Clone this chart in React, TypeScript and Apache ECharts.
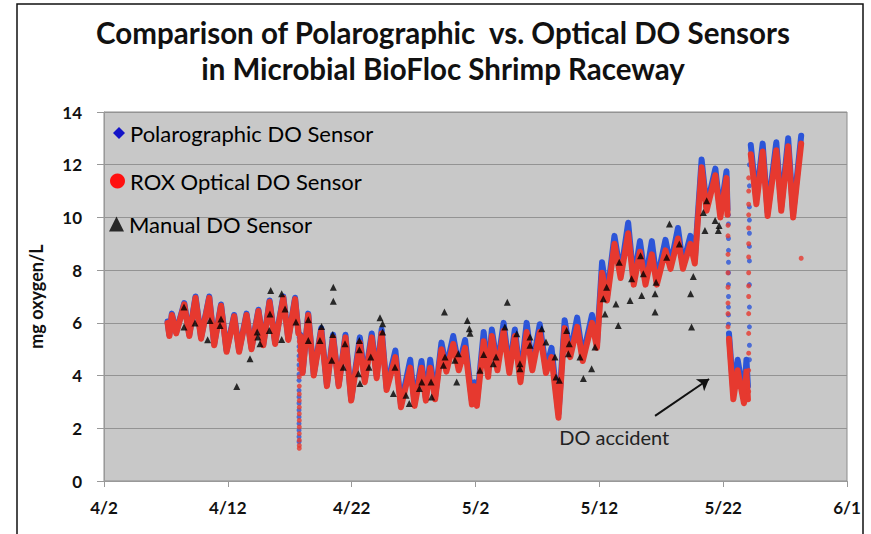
import React, { useEffect, useRef } from 'react';
import * as echarts from 'echarts';

// ---- axis tick labels ----
const xTickLabels = ['4/2', '4/12', '4/22', '5/2', '5/12', '5/22', '6/1'];

// ---- ROX optical sensor (red): daily highs/lows, [day since 4/2, mg/L] ----
const redSeg1 = [[5.13, 6.0], [5.28, 5.5], [5.48, 6.3], [5.83, 5.6], [6.48, 6.7], [6.89, 5.5], [7.39, 6.95], [7.84, 5.4], [8.5, 6.95], [8.9, 5.15], [9.45, 6.65], [9.9, 4.9], [10.51, 6.25], [10.91, 4.9], [11.51, 6.3], [11.91, 5.0], [12.47, 6.45], [12.87, 5.15], [13.37, 6.8], [13.82, 5.2], [14.48, 6.95], [14.88, 5.35], [15.43, 6.9], [15.7, 5.6]];
const redSeg2 = [[15.84, 5.5], [16.04, 4.1], [16.49, 6.3], [16.94, 4.0], [17.54, 5.7], [18.0, 3.6], [18.5, 5.45], [18.95, 3.6], [19.5, 5.45], [19.96, 3.05], [20.66, 5.25], [21.06, 3.75], [21.62, 5.45], [22.02, 3.9], [22.42, 5.6], [22.82, 3.45], [23.53, 4.7], [23.98, 2.8], [24.73, 4.3], [25.08, 2.85], [25.64, 4.3], [25.99, 3.05], [26.34, 4.3], [26.74, 3.1], [27.25, 5.0], [27.65, 4.15], [28.2, 5.2], [28.65, 4.2], [29.16, 5.05], [29.71, 2.9], [29.91, 3.6], [30.11, 2.85], [30.66, 5.3], [31.02, 3.95], [31.32, 5.5], [31.77, 4.2], [32.27, 5.7], [32.73, 4.1], [33.18, 5.5], [33.63, 3.75], [34.13, 5.65], [34.59, 4.2], [35.19, 5.65], [35.69, 4.1], [36.14, 4.7], [36.7, 2.4], [37.2, 5.8], [37.65, 4.7], [38.21, 5.85], [38.66, 4.55], [39.41, 6.0], [39.81, 5.05], [40.22, 7.9], [40.62, 6.85], [41.22, 9.0], [41.72, 7.7], [42.33, 9.4], [42.78, 7.45], [43.28, 8.7], [43.73, 7.45], [44.24, 8.6], [44.64, 7.45], [45.34, 8.75], [45.75, 8.05], [46.35, 9.2], [46.75, 8.05], [47.35, 9.0], [47.71, 8.25], [48.26, 11.9], [48.66, 10.25], [49.37, 11.6], [49.77, 10.0], [50.27, 11.5], [50.35, 10.1]];
const redSeg3 = [[50.47, 5.4], [50.82, 3.1], [51.17, 4.2], [51.68, 2.95], [51.88, 4.15], [52.0, 3.1]];
const redSeg4 = [[52.23, 12.4], [52.68, 10.5], [53.19, 12.5], [53.59, 10.05], [54.29, 12.55], [54.69, 10.25], [55.25, 12.7], [55.65, 10.0], [56.3, 12.8]];
const redDropDay = 15.77;
const redDropValues = [5.3, 4.95, 4.6, 4.25, 3.95, 3.6, 3.3, 3.05, 2.8, 2.55, 2.3, 2.05, 1.8, 1.55, 1.35, 1.24];
const redDeclineDay = 50.39;
const redDeclineValues = [9.7, 9.3, 8.6, 7.9, 7.35, 6.75, 6.35, 5.85];
const redRiseDay = 52.06;
const redRiseValues = [3.4, 4.2, 4.85, 5.6, 6.35, 7.0, 7.4, 7.9, 8.5, 9.0, 9.6, 10.1, 10.5, 11.0, 11.5];
const redLone = [[56.3, 8.45]];

// ---- Polarographic sensor (blue) ----
const blueSeg1 = [[5.13, 6.05], [5.28, 5.55], [5.48, 6.35], [5.83, 5.65], [6.48, 6.75], [6.89, 5.55], [7.39, 7.0], [7.84, 5.45], [8.5, 7.0], [8.9, 5.2], [9.45, 6.7], [9.9, 4.95], [10.51, 6.3], [10.91, 4.95], [11.51, 6.35], [11.91, 5.05], [12.47, 6.5], [12.87, 5.2], [13.37, 6.85], [13.82, 5.25], [14.48, 7.0], [14.88, 5.4], [15.43, 6.95], [15.7, 5.65]];
const blueSeg2 = [[15.84, 5.55], [16.04, 4.15], [16.49, 6.35], [16.94, 4.05], [17.54, 5.8], [18.0, 3.65], [18.5, 5.55], [18.95, 3.65], [19.5, 5.55], [19.96, 3.1], [20.66, 5.45], [21.06, 3.85], [21.62, 5.6], [22.02, 4.0], [22.42, 5.75], [22.82, 3.55], [23.53, 4.95], [23.98, 2.9], [24.73, 4.6], [25.08, 2.95], [25.64, 4.55], [25.99, 3.15], [26.34, 4.6], [26.74, 3.2], [27.25, 5.25], [27.65, 4.3], [28.2, 5.5], [28.65, 4.35], [29.16, 5.35], [29.71, 3.05], [29.91, 3.75], [30.11, 3.0], [30.66, 5.65], [31.02, 4.1], [31.32, 5.75], [31.77, 4.35], [32.27, 6.0], [32.73, 4.25], [33.18, 5.75], [33.63, 3.9], [34.13, 6.0], [34.59, 4.35], [35.19, 5.95], [35.69, 4.25], [36.14, 5.05], [36.7, 2.55], [37.2, 6.1], [37.65, 4.85], [38.21, 6.2], [38.66, 4.7], [39.41, 6.3], [39.81, 5.2], [40.22, 8.3], [40.62, 7.0], [41.22, 9.3], [41.72, 7.85], [42.33, 9.8], [42.78, 7.6], [43.28, 9.1], [43.73, 7.6], [44.24, 9.1], [44.64, 7.6], [45.34, 9.15], [45.75, 8.2], [46.35, 9.6], [46.75, 8.2], [47.35, 9.3], [47.71, 8.4], [48.26, 12.2], [48.66, 10.4], [49.37, 11.85], [49.77, 10.15], [50.27, 11.75], [50.35, 10.3]];
const blueSeg3 = [[50.47, 5.6], [50.82, 3.4], [51.17, 4.6], [51.68, 3.2], [51.88, 4.6], [52.0, 3.6]];
const blueSeg4 = [[52.23, 12.75], [52.68, 10.7], [53.19, 12.8], [53.59, 10.2], [54.29, 12.85], [54.69, 10.4], [55.25, 13.0], [55.65, 10.15], [56.3, 13.1]];
const blueDropDay = 15.75;
const blueDropValues = [5.45, 5.1, 4.75, 4.4, 4.05, 3.82, 3.44, 3.19, 2.95, 2.69, 2.43, 2.18, 1.93, 1.68, 1.49];
const blueDeclineDay = 50.43;
const blueDeclineValues = [10.1, 9.75, 9.2, 8.75, 8.3, 7.9, 7.45, 7.0, 6.6, 6.3, 5.95];
const blueRiseDay = 52.12;
const blueRiseValues = [4.6, 5.15, 5.85, 6.6, 7.45, 8.35, 8.9, 9.4, 9.9, 10.4, 11.2, 12.0];

// ---- Manual DO readings (black triangles) ----
const manualPoints = [[6.46, 6.6], [6.46, 5.84], [7.35, 5.99], [8.37, 5.36], [8.56, 6.09], [9.45, 6.15], [9.37, 5.9], [10.72, 3.59], [11.79, 4.64], [12.37, 5.65], [12.42, 5.46], [12.6, 5.21], [13.46, 7.23], [13.4, 6.34], [13.35, 5.71], [14.35, 7.1], [14.35, 5.37], [14.62, 6.53], [15.5, 6.03], [16.5, 6.12], [16.5, 5.33], [17.57, 5.86], [17.44, 5.33], [18.52, 7.35], [18.52, 6.82], [18.47, 5.56], [18.39, 4.58], [19.46, 5.21], [19.32, 4.32], [20.62, 5.33], [20.62, 4.98], [20.54, 4.07], [20.67, 3.7], [21.54, 4.7], [21.4, 4.32], [22.29, 6.19], [22.5, 5.97], [22.5, 5.65], [23.5, 4.32], [23.37, 3.32], [24.39, 3.25], [24.65, 2.94], [25.47, 3.51], [25.66, 3.76], [26.41, 3.76], [26.46, 3.19], [27.49, 6.41], [27.54, 4.7], [27.41, 4.39], [28.48, 3.76], [28.34, 4.58], [28.61, 4.83], [29.34, 6.09], [29.5, 5.78], [29.56, 5.61], [30.36, 4.2], [30.66, 4.8], [31.44, 4.45], [31.66, 4.7], [32.37, 5.84], [32.57, 6.78], [33.33, 5.59], [33.59, 4.45], [33.59, 4.26], [34.4, 5.46], [34.4, 5.15], [35.35, 5.78], [35.69, 5.27], [36.42, 4.7], [36.5, 3.95], [36.77, 3.82], [37.36, 5.71], [37.57, 5.21], [37.5, 4.83], [38.44, 4.7], [38.71, 3.89], [39.38, 4.26], [39.65, 5.08], [40.46, 6.34], [40.59, 7.35], [40.32, 6.91], [41.34, 6.72], [41.53, 5.9], [41.61, 8.3], [42.48, 6.85], [42.61, 7.67], [43.42, 7.04], [43.55, 7.86], [43.33, 8.55], [44.5, 6.41], [44.5, 7.1], [44.58, 7.54], [45.44, 8.49], [45.66, 9.75], [46.46, 8.99], [47.45, 5.84], [47.37, 7.1], [47.59, 7.76], [48.53, 9.5], [48.4, 10.19], [48.67, 10.63], [49.35, 9.88], [49.61, 9.5], [49.67, 9.69]];

// ---- annotation ----
const annotationText = 'DO accident';
const annotationTextAt = [41.2, 1.67];
const arrowFrom = [44.5, 2.47];
const arrowTo = [48.86, 3.87];

const SERIES_BLUE = 'Polarographic DO Sensor';
const SERIES_RED = 'ROX Optical DO Sensor';
const SERIES_MANUAL = 'Manual DO Sensor';

const FONT = 'Lato, "Noto Sans", sans-serif';

function joinSegments(segs: number[][][]) {
  const out: any[] = [];
  segs.forEach((s, i) => {
    if (i > 0) out.push([s[0][0], '-']);
    s.forEach((p) => out.push(p));
  });
  return out;
}
function column(day: number, values: number[]) {
  return values.map((v) => [day, v]);
}

export default function App() {
  const ref = useRef<HTMLDivElement>(null);
  useEffect(() => {
    const chart = echarts.init(ref.current!, null, { renderer: 'svg' });
    const blueColor = '#2c55d8';
    const redColor = '#e6392f';
    const legendText = { fontFamily: FONT, fontSize: 22, color: '#000' };
    chart.setOption({
      animation: false,
      backgroundColor: '#ffffff',
      title: {
        text: 'Comparison of Polarographic  vs. Optical DO Sensors\nin Microbial BioFloc Shrimp Raceway',
        left: 443,
        textAlign: 'center',
        top: 14,
        padding: 0,
        textStyle: { fontFamily: FONT, fontWeight: 'bold', fontSize: 29.5, lineHeight: 36, color: '#111' },
      },
      legend: [
        {
          data: [{ name: SERIES_BLUE, icon: 'diamond', itemStyle: { color: '#1414c8' } }],
          left: 113, top: 122, padding: 0, itemWidth: 12, itemHeight: 12,
          textStyle: legendText,
        },
        {
          data: [{ name: SERIES_RED, icon: 'circle', itemStyle: { color: '#ff1010' } }],
          left: 110, top: 170, padding: 0, itemWidth: 15, itemHeight: 15,
          textStyle: legendText,
        },
        {
          data: [{ name: SERIES_MANUAL, icon: 'triangle', itemStyle: { color: '#000' } }],
          left: 109, top: 213, padding: 0, itemWidth: 15, itemHeight: 15,
          textStyle: legendText,
        },
      ],
      grid: {
        left: 104, right: 24, top: 112, bottom: 53,
        show: true, backgroundColor: '#c8c8c8', borderColor: '#8c8c8c', borderWidth: 1,
      },
      xAxis: {
        type: 'value', min: 0, max: 60, interval: 10,
        axisLabel: {
          formatter: (v: number) => xTickLabels[Math.round(v / 10)] ?? '',
          fontFamily: FONT, fontWeight: 'bold', fontSize: 17, color: '#111', margin: 18,
        },
        axisLine: { show: true, onZero: false, lineStyle: { color: '#999', width: 1 } },
        axisTick: { show: true, length: 6, lineStyle: { color: '#999' } },
        splitLine: { show: false },
      },
      yAxis: {
        type: 'value', min: 0, max: 14, interval: 2,
        name: 'mg oxygen/L', nameLocation: 'middle', nameGap: 59,
        nameTextStyle: { fontFamily: FONT, fontWeight: 'bold', fontSize: 18, color: '#111' },
        axisLabel: { fontFamily: FONT, fontWeight: 'bold', fontSize: 17, color: '#111', margin: 22 },
        axisLine: { show: true, lineStyle: { color: '#999' } },
        axisTick: { show: true, length: 7, lineStyle: { color: '#999' } },
        splitLine: { show: true, lineStyle: { color: '#939393', width: 1 } },
      },
      series: [
        {
          name: SERIES_BLUE, type: 'line', data: joinSegments([blueSeg1, blueSeg2, blueSeg3, blueSeg4]),
          showSymbol: false, connectNulls: false, z: 2,
          itemStyle: { color: blueColor },
          lineStyle: { color: blueColor, width: 6, join: 'round', cap: 'round' },
        },
        {
          name: SERIES_BLUE, type: 'scatter', z: 2, symbol: 'circle', symbolSize: 5,
          itemStyle: { color: blueColor },
          data: [...column(blueDropDay, blueDropValues), ...column(blueDeclineDay, blueDeclineValues), ...column(blueRiseDay, blueRiseValues)],
        },
        {
          name: SERIES_RED, type: 'line', data: joinSegments([redSeg1, redSeg2, redSeg3, redSeg4]),
          showSymbol: false, connectNulls: false, z: 3,
          itemStyle: { color: redColor },
          lineStyle: { color: redColor, width: 6, join: 'round', cap: 'round' },
        },
        {
          name: SERIES_RED, type: 'scatter', z: 4, symbol: 'circle', symbolSize: 5,
          itemStyle: { color: redColor },
          data: [...column(redDropDay, redDropValues), ...column(redDeclineDay, redDeclineValues), ...column(redRiseDay, redRiseValues), ...redLone],
        },
        {
          name: SERIES_MANUAL, type: 'scatter', z: 5, symbol: 'triangle', symbolSize: 7,
          itemStyle: { color: '#000' },
          data: manualPoints,
          markLine: {
            silent: true, symbol: ['none', 'arrow'], symbolSize: 11,
            lineStyle: { color: '#111', width: 2, type: 'solid' },
            label: { show: false },
            data: [[{ coord: arrowFrom }, { coord: arrowTo }]],
          },
          markPoint: {
            silent: true, symbol: 'circle', symbolSize: 0,
            label: { show: true, position: 'inside', formatter: annotationText, fontFamily: FONT, fontSize: 20, color: '#222' },
            data: [{ coord: annotationTextAt }],
          },
        },
      ],
      graphic: [
        {
          type: 'rect', silent: true, z: -1,
          shape: { x: 17, y: 4, width: 846, height: 560 },
          style: { fill: 'none', stroke: '#111', lineWidth: 1.5 },
        },
      ],
    });
    return () => chart.dispose();
  }, []);
  return (
    <div
      ref={ref}
      style={{ position: 'fixed', left: 0, top: 0, width: 871, height: 534, background: '#fff' }}
    />
  );
}
